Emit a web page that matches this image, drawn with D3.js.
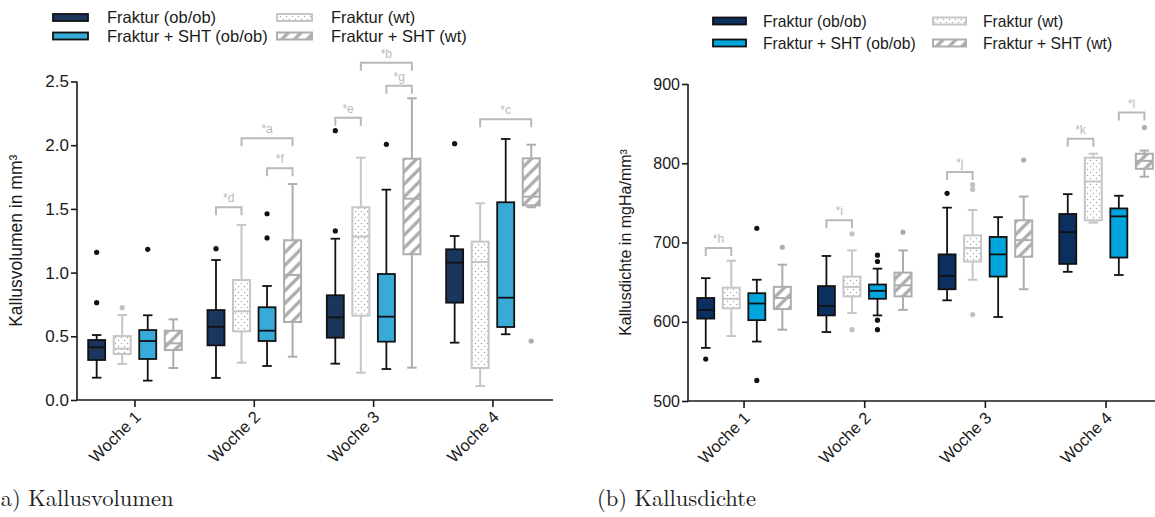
<!DOCTYPE html>
<html>
<head>
<meta charset="utf-8">
<script src="https://cdn.jsdelivr.net/npm/d3@7"></script>
<style>
  html, body { margin: 0; padding: 0; background: #fff; }
  svg { display: block; font-family: "Liberation Sans", Arial, sans-serif; }
</style>
</head>
<body>
<svg id="chart" width="1155" height="517"></svg>
<script>
// ---- categories ----
const weeks = ["Woche 1", "Woche 2", "Woche 3", "Woche 4"];
const groups = ["Fraktur (ob/ob)", "Fraktur (wt)", "Fraktur + SHT (ob/ob)", "Fraktur + SHT (wt)"];

// ---- Kallusvolumen (mm³): per week [whisker low, Q1, median, Q3, whisker high] ----
const volObOb    = [[0.175, 0.314, 0.414, 0.471, 0.51], [0.173, 0.429, 0.575, 0.706, 1.099], [0.285, 0.489, 0.649, 0.822, 1.266], [0.45, 0.764, 1.078, 1.183, 1.287]];
const volWt      = [[0.283, 0.361, 0.403, 0.502, 0.667], [0.293, 0.539, 0.696, 0.942, 1.374], [0.214, 0.662, 1.282, 1.513, 1.902], [0.11, 0.251, 1.083, 1.243, 1.544]];
const volShtObOb = [[0.152, 0.322, 0.463, 0.549, 0.665], [0.267, 0.463, 0.544, 0.728, 0.895], [0.243, 0.458, 0.654, 0.989, 1.651], [0.516, 0.573, 0.803, 1.552, 2.049]];
const volShtWt   = [[0.251, 0.392, 0.445, 0.544, 0.633], [0.34, 0.612, 0.981, 1.254, 1.695], [0.254, 1.144, 1.58, 1.894, 2.368], [1.513, 1.528, 1.596, 1.897, 2.004]];
const volOutObOb    = [[1.159, 0.764], [1.188], [1.327, 2.114], [2.012]];
const volOutWt      = [[0.725], [], [], []];
const volOutShtObOb = [[1.183], [1.462, 1.272], [2.007], []];
const volOutShtWt   = [[], [], [], [0.463]];
const volTicks = [0, 0.5, 1.0, 1.5, 2.0, 2.5];
// significance brackets: label, week index, from group, to group, height
const volSig = [
  ["*d", 1, 0, 1, 1.513], ["*a", 1, 1, 3, 2.054], ["*f", 1, 2, 3, 1.819],
  ["*e", 2, 0, 1, 2.216], ["*b", 2, 1, 3, 2.648], ["*g", 2, 2, 3, 2.467],
  ["*c", 3, 1, 3, 2.203]
];

// ---- Kallusdichte (mgHa/mm³) ----
const denObOb    = [[567, 604, 615, 630, 655], [587, 608, 620, 645, 683], [627, 641, 658, 685, 744], [663, 673, 713, 736, 761]];
const denWt      = [[582, 617, 629, 643, 677], [611, 632, 644, 657, 690], [653, 676, 693, 709, 741], [725, 728, 777, 807, 812]];
const denShtObOb = [[575, 602, 623, 636, 653], [608, 629, 639, 647, 667], [606, 657, 685, 707, 732], [659, 681, 733, 743, 759]];
const denShtWt   = [[590, 616, 630, 644, 672], [615, 632, 646, 662, 690], [641, 682, 703, 728, 758], [783, 793, 803, 812, 816]];
const denOutObOb    = [[553], [], [762], []];
const denOutWt      = [[], [711, 590], [773, 767, 609], []];
const denOutShtObOb = [[718, 526], [684, 676, 602, 590], [], []];
const denOutShtWt   = [[694], [713], [804], [845]];
const denTicks = [500, 600, 700, 800, 900];
const denSig = [
  ["*h", 0, 0, 1, 693], ["*i", 1, 0, 1, 728], ["*j", 2, 0, 1, 789],
  ["*k", 3, 0, 1, 831], ["*l", 3, 2, 3, 864]
];

const svg = d3.select("#chart");
const defs = svg.append("defs");

// dotted fill for "Fraktur (wt)"
const dots = defs.append("pattern").attr("id", "dots")
  .attr("patternUnits", "userSpaceOnUse").attr("width", 6).attr("height", 6);
dots.append("rect").attr("width", 6).attr("height", 6).attr("fill", "#fff");
dots.append("circle").attr("cx", 1.5).attr("cy", 1.5).attr("r", 0.75).attr("fill", "#a8a8a8");
dots.append("circle").attr("cx", 4.5).attr("cy", 4.5).attr("r", 0.75).attr("fill", "#a8a8a8");

// diagonal hatch for "Fraktur + SHT (wt)"
const hatch = defs.append("pattern").attr("id", "hatch")
  .attr("patternUnits", "userSpaceOnUse").attr("width", 9).attr("height", 9)
  .attr("patternTransform", "rotate(45)");
hatch.append("rect").attr("width", 9).attr("height", 9).attr("fill", "#fff");
hatch.append("line").attr("x1", 2).attr("y1", 0).attr("x2", 2).attr("y2", 9)
  .attr("stroke", "#a9a9a9").attr("stroke-width", 3.2);

function groupStyles(darkFill, lightFill) {
  return [
    { fill: darkFill, stroke: "#111", sw: 1.8, dot: "#111" },
    { fill: "url(#dots)", stroke: "#c6c6c6", sw: 2, dot: "#c2c2c2" },
    { fill: lightFill, stroke: "#111", sw: 1.8, dot: "#111" },
    { fill: "url(#hatch)", stroke: "#adadad", sw: 2, dot: "#adadad" }
  ];
}

function drawPanel(cfg) {
  const g = svg.append("g");
  const x = d3.scaleBand().domain(weeks).range(cfg.xRange).padding(0);
  const off = d3.scalePoint().domain(groups).range([-38.3, 38.3]);
  const y = d3.scaleLinear().domain(cfg.yDomain).range(cfg.yRange);
  const styles = groupStyles(cfg.dark, cfg.light);
  const boxW = 17, capW = 9.5;

  // axes
  const yAxis = d3.axisLeft(y).tickValues(cfg.ticks).tickFormat(cfg.fmt).tickSize(6).tickPadding(2);
  const ya = g.append("g").attr("transform", `translate(${cfg.axisX},0)`).call(yAxis);
  ya.select(".domain").attr("stroke", "#1a1a1a").attr("stroke-width", 1.6)
    .attr("d", `M0,${y(cfg.yDomain[1])}V${y(cfg.yDomain[0])}`);
  ya.selectAll(".tick line").attr("stroke", "#1a1a1a").attr("stroke-width", 1.6);
  ya.selectAll(".tick text").attr("font-size", cfg.tickFont).attr("fill", "#1a1a1a");

  const xAxis = d3.axisBottom(x).tickSize(7).tickSizeOuter(0);
  const xa = g.append("g").attr("transform", `translate(0,${y(cfg.yDomain[0])})`).call(xAxis);
  xa.select(".domain").attr("stroke", "#1a1a1a").attr("stroke-width", 1.6)
    .attr("d", `M${cfg.axisX},0H${cfg.xEnd}`);
  xa.selectAll(".tick line").attr("stroke", "#1a1a1a").attr("stroke-width", 1.6);
  xa.selectAll(".tick text")
    .attr("font-size", 16.5).attr("fill", "#1a1a1a")
    .attr("text-anchor", "end").attr("dy", 0).attr("y", 0)
    .attr("transform", "translate(7,18) rotate(-45)");

  // y title
  g.append("text")
    .attr("transform", `translate(${cfg.titleX},${(cfg.yRange[0] + cfg.yRange[1]) / 2}) rotate(-90)`)
    .attr("text-anchor", "middle").attr("font-size", cfg.titleFont).attr("fill", "#1a1a1a")
    .text(cfg.title);

  // boxes
  cfg.stats.forEach((series, gi) => {
    const st = styles[gi];
    series.forEach((s, wi) => {
      const cx = x(weeks[wi]) + x.bandwidth() / 2 + off(groups[gi]);
      const [lo, q1, med, q3, hi] = s;
      const bg = g.append("g");
      bg.append("line").attr("x1", cx).attr("x2", cx).attr("y1", y(hi)).attr("y2", y(lo))
        .attr("stroke", st.stroke).attr("stroke-width", st.sw);
      [lo, hi].forEach(v => bg.append("line")
        .attr("x1", cx - capW / 2).attr("x2", cx + capW / 2).attr("y1", y(v)).attr("y2", y(v))
        .attr("stroke", st.stroke).attr("stroke-width", st.sw));
      bg.append("rect").attr("x", cx - boxW / 2).attr("width", boxW)
        .attr("y", y(q3)).attr("height", y(q1) - y(q3))
        .attr("fill", st.fill).attr("stroke", st.stroke).attr("stroke-width", st.sw);
      bg.append("line").attr("x1", cx - boxW / 2).attr("x2", cx + boxW / 2)
        .attr("y1", y(med)).attr("y2", y(med))
        .attr("stroke", st.stroke).attr("stroke-width", st.sw);
      cfg.outliers[gi][wi].forEach(v => bg.append("circle")
        .attr("cx", cx).attr("cy", y(v)).attr("r", 2.6).attr("fill", st.dot));
    });
  });

  // significance brackets
  cfg.sig.forEach(([lab, wi, a, b, v]) => {
    const base = x(weeks[wi]) + x.bandwidth() / 2;
    const x1 = base + off(groups[a]), x2 = base + off(groups[b]);
    const yy = y(v);
    g.append("path").attr("d", `M${x1},${yy + 8}V${yy}H${x2}V${yy + 8}`)
      .attr("fill", "none").attr("stroke", "#b9b9b9").attr("stroke-width", 2);
    g.append("text").attr("x", (x1 + x2) / 2).attr("y", yy - 5)
      .attr("text-anchor", "middle").attr("font-size", 12).attr("fill", "#b9b9b9").text(lab);
  });

  // legend
  const L = cfg.legend;
  const order = [0, 2, 1, 3];
  order.forEach((gi, k) => {
    const col = Math.floor(k / 2), row = k % 2;
    const sx = L.x[col], sy = L.y[row];
    const st = styles[gi];
    g.append("rect").attr("x", sx).attr("y", sy - 3.5).attr("width", L.w).attr("height", 7)
      .attr("fill", st.fill).attr("stroke", st.stroke).attr("stroke-width", st.sw);
    g.append("text").attr("x", sx + L.gap).attr("y", sy).attr("dy", "0.36em")
      .attr("font-size", L.font).attr("fill", "#1a1a1a").text(groups[gi]);
  });

  // caption
  svg.append("text").attr("x", cfg.capX).attr("y", 506)
    .attr("font-family", "'Latin Modern Roman', 'DejaVu Serif', 'Liberation Serif', serif")
    .attr("font-size", 22.5).attr("fill", "#222").text(cfg.caption);
}

drawPanel({
  xRange: [75.3, 552.6], xEnd: 553, axisX: 77,
  yDomain: [0, 2.5], yRange: [400, 81.5], ticks: volTicks, fmt: d3.format(".1f"),
  tickFont: 17, title: "Kallusvolumen in mm³", titleX: 22, titleFont: 17.5,
  dark: "#1b365d", light: "#38aad8",
  stats: [volObOb, volWt, volShtObOb, volShtWt],
  outliers: [volOutObOb, volOutWt, volOutShtObOb, volOutShtWt],
  sig: volSig,
  legend: { x: [53, 277], y: [17.5, 36], w: 35, gap: 54, font: 16.5 },
  caption: "(a) Kallusvolumen", capX: -8
});

drawPanel({
  xRange: [683.7, 1166.4], xEnd: 1160, axisX: 688,
  yDomain: [500, 900], yRange: [401, 84], ticks: denTicks, fmt: d3.format("d"),
  tickFont: 16, title: "Kallusdichte in mgHa/mm³", titleX: 631, titleFont: 16,
  dark: "#0b2f5e", light: "#00a5dd",
  stats: [denObOb, denWt, denShtObOb, denShtWt],
  outliers: [denOutObOb, denOutWt, denOutShtObOb, denOutShtWt],
  sig: denSig,
  legend: { x: [713, 933], y: [21, 43], w: 33, gap: 50, font: 15.7 },
  caption: "(b) Kallusdichte", capX: 597
});
</script>
</body>
</html>
